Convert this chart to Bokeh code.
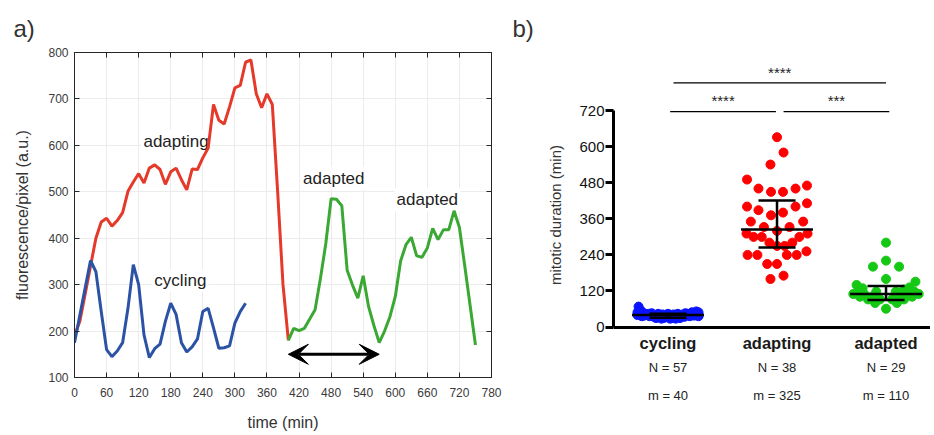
from bokeh.plotting import figure
from bokeh.models import (Range1d, LinearAxis, FixedTicker, Label,
                          Arrow, VeeHead)
from bokeh.layouts import row
from bokeh.embed import file_html
from bokeh.resources import INLINE
from bokeh.core.properties import value

FONT = "Liberation Sans"

# ---------------- panel a) data ----------------
time_adapting = list(range(0, 410, 10))
fluor_adapting = [190, 221, 280, 340, 400, 435, 443, 426, 438, 455, 501, 521, 539, 519,
                  551, 558, 548, 516, 543, 551, 526, 504, 549, 548, 573, 594, 688, 654,
                  646, 683, 724, 729, 779, 784, 711, 681, 711, 688, 500, 300, 180]
time_cycling = list(range(0, 330, 10))
fluor_cycling = [175, 234, 293, 352, 328, 242, 160, 145, 157, 175, 249, 343, 300, 192,
                 143, 162, 172, 221, 260, 236, 175, 155, 166, 183, 242, 249, 207, 163,
                 164, 168, 217, 242, 260]
time_adapted = list(range(400, 760, 10))
fluor_adapted = [180, 206, 201, 206, 226, 246, 313, 388, 485, 484, 470, 331, 299, 271,
                 319, 253, 212, 175, 200, 231, 274, 351, 386, 402, 362, 359, 379, 421,
                 397, 418, 418, 459, 423, 340, 255, 170]
arrow_span = [400, 570]
arrow_level = 150
a_labels = ["adapting", "cycling", "adapted", "adapted"]
a_label_x = [190, 198, 485, 660]
a_label_y = [609, 309, 529, 483]
x_ticks_a = list(range(0, 781, 60))
y_ticks_a = list(range(100, 801, 100))

# ---------------- panel b) data ----------------
groups = ["cycling", "adapting", "adapted"]
cycling_min = [68, 55, 52, 49, 49, 49, 46, 46, 46, 46,
               44, 44, 44, 44, 44, 44, 44, 42, 42, 42, 42, 42, 42,
               40, 40, 40, 40, 40, 40, 40, 38, 38, 38, 38, 38, 38,
               36, 36, 36, 36, 36, 36, 36, 34, 34, 34, 34, 32, 32, 32,
               30, 30, 30, 30, 28, 28, 28]
cycling_jit = [-0.27, -0.25, 0.26, -0.28, 0.22, 0.28, -0.22, -0.15, 0.16, 0.23,
               -0.27, -0.18, -0.09, 0.0, 0.09, 0.18, 0.27, -0.23, -0.14, -0.05, 0.05, 0.14, 0.23,
               -0.28, -0.18, -0.09, 0.0, 0.09, 0.18, 0.28, -0.22, -0.13, -0.04, 0.06, 0.15, 0.24,
               -0.24, -0.17, -0.07, 0.02, 0.11, 0.2, 0.28, -0.13, -0.04, 0.06, 0.15, -0.09, 0.0, 0.09,
               -0.11, -0.04, 0.04, 0.11, -0.06, 0.02, 0.07]
adapting_min = [632, 581, 541, 491, 461, 450, 450, 461, 471, 401, 389, 372, 381, 401,
                412, 351, 333, 320, 333, 351, 311, 300, 300, 300, 311, 281, 270, 270,
                281, 240, 240, 240, 240, 252, 210, 210, 160, 171]
adapting_jit = [0.0, 0.06, -0.06, -0.275, -0.17, -0.055, 0.055, 0.17, 0.275, -0.275,
                -0.17, -0.055, 0.055, 0.17, 0.275, -0.24, -0.12, 0.0, 0.115, 0.24,
                -0.28, -0.215, -0.14, 0.205, 0.28, -0.07, 0.0, 0.07, 0.14, -0.27,
                -0.18, 0.09, 0.18, 0.27, -0.09, 0.0, -0.06, 0.06]
adapted_min = [281, 221, 201, 201, 160, 151, 140, 132, 129, 125, 118, 118, 118, 118,
               110, 110, 110, 110, 101, 101, 101, 101, 92, 92, 92, 92, 80, 80, 61]
adapted_jit = [0.0, 0.0, -0.12, 0.12, 0.0, 0.27, -0.27, 0.215, -0.215, 0.165, -0.26,
               -0.09, 0.09, 0.26, -0.3, -0.2, 0.2, 0.3, -0.24, -0.13, 0.13, 0.24,
               -0.165, -0.055, 0.055, 0.165, -0.1, 0.1, 0.0]
medians = [40, 325, 110]
q1 = [31, 265, 90]
q3 = [44, 421, 137]
sig_x0 = [1.05, 1.02, 2.06]
sig_x1 = [3.0, 1.99, 3.03]
sig_y = [813, 717, 717]
sig_text = ["****", "****", "***"]
sig_text_y = [846, 754, 754]
y_ticks_b = list(range(0, 721, 120))

RED_L, BLUE_L, GREEN_L = "#e5392a", "#2b52a5", "#3ba834"
AX = "#262626"
TXT = "#333333"

H = 433
BT, BB = 52, 54   # shared top / bottom borders (frames are aligned in a row)


def panel_title(p, text, offset, standoff):
    p.title.text = text
    p.title.align = "left"
    p.title.offset = offset
    p.title.standoff = standoff
    p.title.text_font = FONT
    p.title.text_font_size = "24px"
    p.title.text_font_style = "normal"
    p.title.text_color = TXT


# ---------------- panel a) ----------------
p1 = figure(width=505, height=H, output_backend="svg", toolbar_location=None,
            x_range=Range1d(0, 780), y_range=Range1d(100, 800),
            min_border_left=74, min_border_right=14, min_border_top=BT, min_border_bottom=BB)
p1.outline_line_color = AX
for ax in (p1.xaxis[0], p1.yaxis[0]):
    ax.major_tick_in = 5
    ax.major_tick_out = 0
    ax.minor_tick_line_color = None
    ax.axis_line_color = AX
    ax.major_tick_line_color = AX
    ax.major_label_text_font = FONT
    ax.major_label_text_font_size = "12px"
    ax.major_label_text_color = "#3a3a3a"
    ax.axis_label_text_font = FONT
    ax.axis_label_text_font_size = "16px"
    ax.axis_label_text_font_style = "normal"
    ax.axis_label_text_color = TXT
p1.xaxis.ticker = FixedTicker(ticks=x_ticks_a)
p1.yaxis.ticker = FixedTicker(ticks=y_ticks_a)
p1.xaxis.axis_label = "time (min)"
p1.yaxis.axis_label = "fluorescence/pixel (a.u.)"
p1.xaxis.major_label_standoff = 10
p1.yaxis.major_label_standoff = 6
p1.xaxis.axis_label_standoff = 14
p1.yaxis.axis_label_standoff = 14
for loc, tk in (("above", x_ticks_a), ("right", y_ticks_a)):
    extra = LinearAxis(ticker=FixedTicker(ticks=tk),
                       major_label_overrides={t: "" for t in tk},
                       major_tick_in=5, major_tick_out=0, major_label_standoff=0,
                       minor_tick_line_color=None, axis_line_color=AX,
                       major_tick_line_color=AX)
    p1.add_layout(extra, loc)
p1.xgrid.grid_line_color = "#ececec"
p1.ygrid.grid_line_color = "#ececec"
p1.xgrid.ticker = FixedTicker(ticks=x_ticks_a)
p1.ygrid.ticker = FixedTicker(ticks=y_ticks_a)
panel_title(p1, "a)", -61, 22)

p1.line(time_adapting, fluor_adapting, line_color=RED_L, line_width=3)
p1.line(time_cycling, fluor_cycling, line_color=BLUE_L, line_width=3)
p1.line(time_adapted, fluor_adapted, line_color=GREEN_L, line_width=3)

p1.add_layout(Arrow(start=VeeHead(size=20, fill_color="black", line_color="black"),
                    end=VeeHead(size=20, fill_color="black", line_color="black"),
                    x_start=arrow_span[0], x_end=arrow_span[1],
                    y_start=arrow_level, y_end=arrow_level,
                    line_color="black", line_width=3))
for t, x, y in zip(a_labels, a_label_x, a_label_y):
    p1.add_layout(Label(x=x, y=y, text=t, text_align="center", text_baseline="middle",
                        text_font=FONT, text_font_size="17px", text_color="#222222",
                        background_fill_color="white", padding=2, level="underlay"))

# ---------------- panel b) ----------------
p2 = figure(width=425, height=H, output_backend="svg", toolbar_location=None,
            x_range=Range1d(0.5, 3.408), y_range=Range1d(-168, 914),
            min_border_left=108, min_border_right=0, min_border_top=BT, min_border_bottom=BB)
p2.outline_line_color = None
p2.grid.grid_line_color = None
p2.yaxis.bounds = (0, 720)
p2.yaxis.ticker = FixedTicker(ticks=y_ticks_b)
p2.yaxis.axis_line_width = 3
p2.yaxis.axis_line_color = "black"
p2.yaxis.major_tick_line_width = 3
p2.yaxis.major_tick_line_color = "black"
p2.yaxis.major_tick_out = 8
p2.yaxis.major_tick_in = 0
p2.yaxis.minor_tick_line_color = None
p2.yaxis.major_label_standoff = 1
p2.yaxis.major_label_text_font = FONT
p2.yaxis.major_label_text_font_size = "15px"
p2.yaxis.major_label_text_color = "#111111"
p2.yaxis.axis_label = "mitotic duration (min)"
p2.yaxis.axis_label_text_font = FONT
p2.yaxis.axis_label_text_font_size = "15px"
p2.yaxis.axis_label_text_font_style = "normal"
p2.yaxis.axis_label_text_color = TXT
p2.yaxis.axis_label_standoff = 12

p2.xaxis.fixed_location = 0
p2.xaxis.ticker = FixedTicker(ticks=[1, 2, 3])
p2.xaxis.major_label_overrides = {i + 1: g for i, g in enumerate(groups)}
p2.xaxis.axis_line_width = 3
p2.xaxis.axis_line_color = "black"
p2.xaxis.major_tick_line_color = None
p2.xaxis.major_tick_out = 0
p2.xaxis.major_tick_in = 0
p2.xaxis.minor_tick_line_color = None
p2.xaxis.major_label_standoff = 7
p2.xaxis.major_label_text_font = FONT
p2.xaxis.major_label_text_font_size = "16.5px"
p2.xaxis.major_label_text_font_style = "bold"
p2.xaxis.major_label_text_color = "#1a1a1a"
panel_title(p2, "b)", -101, 22)

series = [(cycling_min, cycling_jit, "#0a14ff"),
          (adapting_min, adapting_jit, "#ff0000"),
          (adapted_min, adapted_jit, "#14c814")]
for i, (vals, jit, col) in enumerate(series):
    xs = [i + 1 + j for j in jit]
    p2.scatter(xs, vals, size=9, fill_color=col, line_color=col)

pos = [1, 2, 3]
p2.segment([x - 0.33 for x in pos], medians, [x + 0.33 for x in pos], medians,
           line_color="black", line_width=2.5)
p2.segment(pos, q1, pos, q3, line_color="black", line_width=2.5)
p2.segment([x - 0.17 for x in pos], q1, [x + 0.17 for x in pos], q1,
           line_color="black", line_width=2.5)
p2.segment([x - 0.17 for x in pos], q3, [x + 0.17 for x in pos], q3,
           line_color="black", line_width=2.5)

p2.segment(sig_x0, sig_y, sig_x1, sig_y, line_color="black", line_width=1.3)
p2.text([(a + b) / 2 for a, b in zip(sig_x0, sig_x1)], sig_text_y, text=sig_text,
        text_align="center", text_baseline="middle", text_font=value(FONT),
        text_font_size="15px", text_color="#222222")

# N labels sit just above the frame's lower edge; m labels on an extra axis below it
for x, (vals, _, _) in zip(pos, series):
    p2.add_layout(Label(x=x, y=10, y_units="screen", text=f"N = {len(vals)}",
                        text_align="center", text_baseline="middle", text_font=FONT,
                        text_font_size="13px", text_color="#222222"))
m_axis = LinearAxis(ticker=FixedTicker(ticks=pos),
                    major_label_overrides={x: f"m = {m}" for x, m in zip(pos, medians)},
                    axis_line_color=None, major_tick_line_color=None,
                    minor_tick_line_color=None, major_tick_out=0, major_tick_in=0,
                    major_label_standoff=10, major_label_text_font=FONT,
                    major_label_text_font_size="13px", major_label_text_color="#222222")
p2.add_layout(m_axis, "below")

layout = row(p1, p2)
open("out.html", "w").write(file_html(layout, INLINE))
